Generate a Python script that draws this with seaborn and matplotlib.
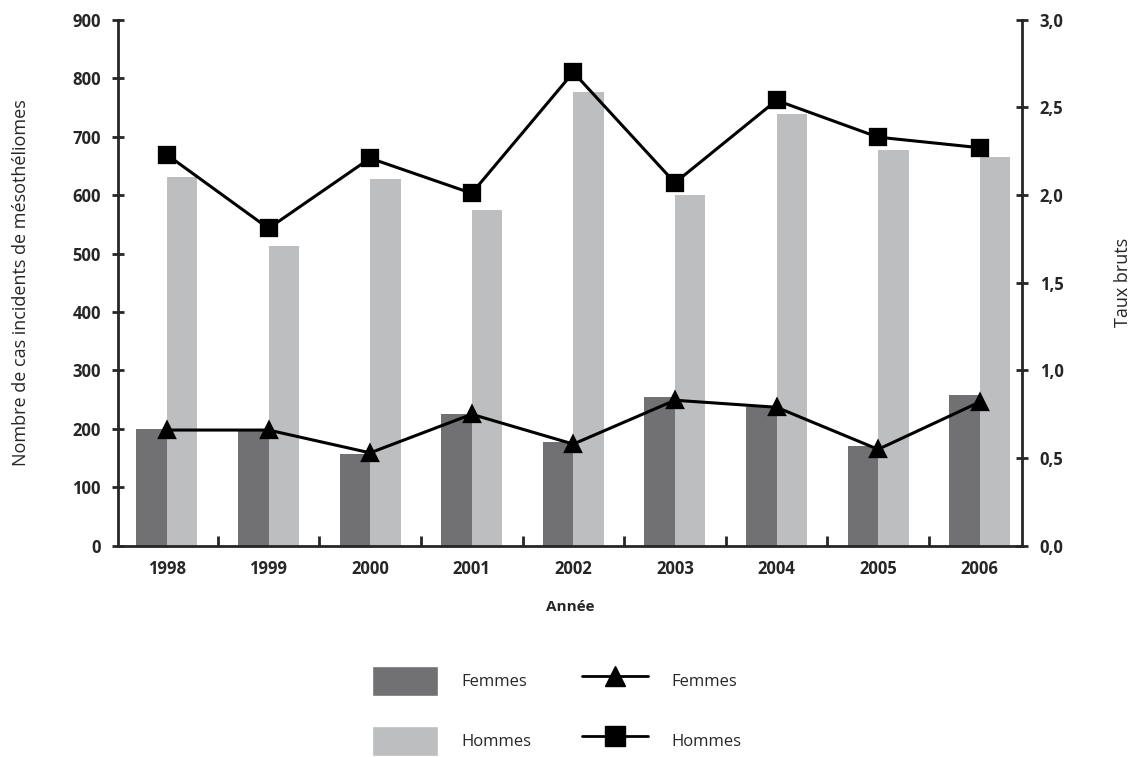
import pandas as pd
import matplotlib.pyplot as plt
import seaborn as sns
from matplotlib.patches import Patch
from matplotlib.lines import Line2D

annees = ['1998', '1999', '2000', '2001', '2002', '2003', '2004', '2005', '2006']
cas_femmes = [200, 199, 157, 226, 178, 255, 237, 170, 258]
cas_hommes = [631, 513, 628, 575, 776, 600, 738, 677, 665]
taux_femmes = [0.66, 0.66, 0.53, 0.75, 0.58, 0.83, 0.79, 0.55, 0.82]
taux_hommes = [2.23, 1.81, 2.21, 2.01, 2.70, 2.07, 2.54, 2.33, 2.27]

sns.set_style('white')
plt.rcParams['font.family'] = ['Open Sans', 'DejaVu Sans']

cas = pd.DataFrame({
    'Année': annees * 2,
    'cas': cas_femmes + cas_hommes,
    'sexe': ['Femmes'] * len(annees) + ['Hommes'] * len(annees),
})

fig = plt.figure(figsize=(11.36, 7.57), dpi=100)
ax = fig.add_axes([0.104, 0.279, 0.796, 0.695])

couleurs = {'Femmes': '#717173', 'Hommes': '#bdbec0'}
sns.barplot(data=cas, x='Année', y='cas', hue='sexe', palette=couleurs,
            width=0.6, gap=0, saturation=1, linewidth=0, ax=ax, legend=False)

ax2 = ax.twinx()
sns.pointplot(x=annees, y=taux_hommes, color='black', markers='s',
              markersize=12, linewidth=2.2, ax=ax2)
sns.pointplot(x=annees, y=taux_femmes, color='black', markers='^',
              markersize=12, linewidth=2.2, ax=ax2)

ax.set_xlim(-0.48, 8.42)
ax.set_ylim(0, 900)
ax.set_yticks(range(0, 901, 100))
ax2.set_ylim(0, 3.0)
ax2.set_yticks([0, 0.5, 1.0, 1.5, 2.0, 2.5, 3.0])
ax2.set_yticklabels(['0,0', '0,5', '1,0', '1,5', '2,0', '2,5', '3,0'])

for a in (ax, ax2):
    a.spines['top'].set_visible(False)
    for s in a.spines.values():
        s.set_linewidth(2)
ax.spines['right'].set_visible(False)
ax2.spines['left'].set_visible(False)
ax2.spines['bottom'].set_visible(False)

ax.set_xticks([i + 0.5 for i in range(len(annees) - 1)], minor=True)
ax.tick_params(axis='x', which='major', length=0, pad=10, labelsize=12)
ax.tick_params(axis='x', which='minor', direction='in', length=7, width=2, bottom=True)
ax.tick_params(axis='y', direction='inout', length=9, width=2, labelsize=12, pad=8, left=True)
ax2.tick_params(axis='y', direction='inout', length=9, width=2, labelsize=12, pad=8, right=True)
for lab in ax.get_xticklabels() + ax.get_yticklabels() + ax2.get_yticklabels():
    lab.set_fontweight('bold')

ax.set_xlabel('Année', fontsize=11, fontweight='bold', labelpad=16)
ax.set_ylabel('Nombre de cas incidents de mésothéliomes', fontsize=13, labelpad=30)
ax2.set_ylabel('Taux bruts', fontsize=13, labelpad=36)

poignees = [
    Patch(facecolor=couleurs['Femmes'], label='Femmes'),
    Patch(facecolor=couleurs['Hommes'], label='Hommes'),
    Line2D([], [], color='black', marker='^', markersize=14, linewidth=2, label='Femmes'),
    Line2D([], [], color='black', marker='s', markersize=14, linewidth=2, label='Hommes'),
]
fig.legend(handles=poignees, loc='upper center', bbox_to_anchor=(0.49, 0.14), ncol=2,
           frameon=False, fontsize=12, handlelength=4, handleheight=2.4,
           labelspacing=1.8, columnspacing=3.0, handletextpad=1.4)

fig.savefig('out.png', dpi=100)
